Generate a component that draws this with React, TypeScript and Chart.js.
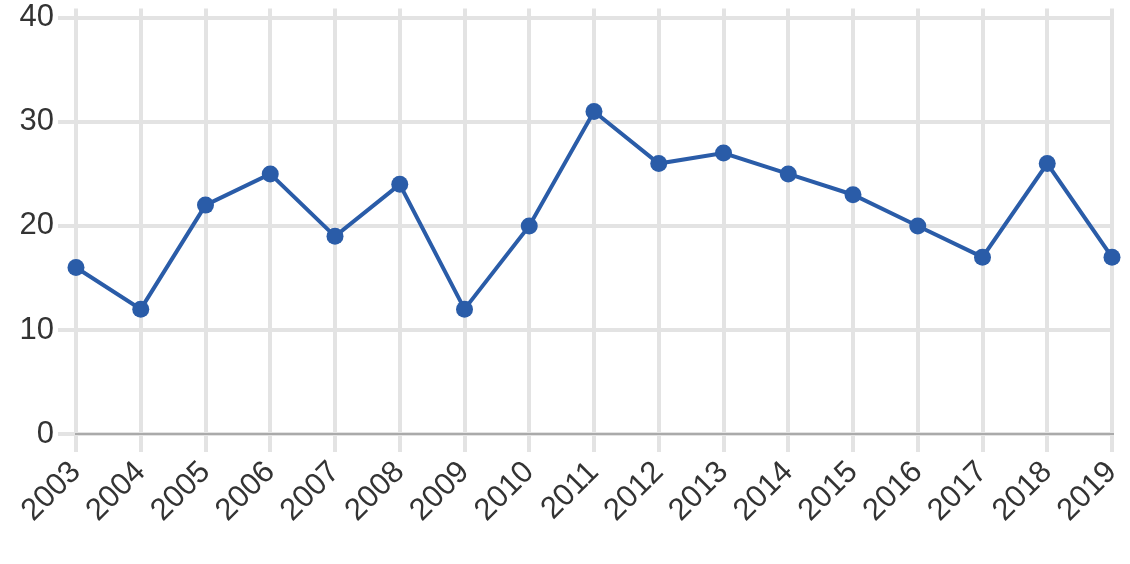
import React, { useEffect, useRef } from 'react';
import { Chart, registerables } from 'chart.js';

Chart.register(...registerables);

const years = ['2003', '2004', '2005', '2006', '2007', '2008', '2009', '2010', '2011', '2012', '2013', '2014', '2015', '2016', '2017', '2018', '2019'];
const values = [16, 12, 22, 25, 19, 24, 12, 20, 31, 26, 27, 25, 23, 20, 17, 26, 17];
const yTicks = [0, 10, 20, 30, 40];

const LINE_COLOR = '#2a5ca8';
const GRID_COLOR = '#e3e3e3';
const FONT = 'Helvetica, "Liberation Sans", Arial, sans-serif';

const App: React.FC = () => {
  const chartRef = useRef<HTMLCanvasElement>(null);
  const chartInstance = useRef<Chart | null>(null);

  useEffect(() => {
    if (!chartRef.current) return;
    const ctx = chartRef.current.getContext('2d');
    if (!ctx) return;

    chartInstance.current = new Chart(ctx, {
      type: 'line',
      data: {
        labels: years,
        datasets: [{
          data: values,
          borderColor: LINE_COLOR,
          backgroundColor: LINE_COLOR,
          borderWidth: 4,
          pointRadius: 8.5,
          pointBackgroundColor: LINE_COLOR,
          pointBorderWidth: 0,
          tension: 0,
          fill: false,
          clip: false
        }]
      },
      options: {
        animation: false,
        responsive: false,
        layout: { padding: { top: 0, right: 18, left: 0, bottom: 0 } },
        plugins: {
          legend: { display: false },
          tooltip: { enabled: false }
        },
        scales: {
          x: {
            offset: false,
            grid: { color: GRID_COLOR, lineWidth: 4, tickLength: 18 },
            border: { color: '#aaaaaa', width: 2 },
            ticks: {
              minRotation: 45,
              maxRotation: 45,
              autoSkip: false,
              padding: 2,
              color: '#333333',
              font: { family: FONT, size: 31 }
            },
            afterFit: (scale: any) => {
              scale.height = 130;
              scale.paddingLeft = 0;
              scale.paddingRight = 0;
              scale.paddingTop = 0;
              scale.paddingBottom = 0;
            }
          },
          y: {
            min: 0,
            max: 40.9,
            grid: { color: GRID_COLOR, lineWidth: 4, tickLength: 18 },
            border: { display: false },
            ticks: {
              stepSize: 10,
              padding: 4,
              color: '#333333',
              font: { family: FONT, size: 31 }
            },
            afterBuildTicks: (scale: any) => {
              scale.ticks = yTicks.map((v) => ({ value: v }));
            },
            afterFit: (scale: any) => {
              scale.width = 76;
              scale.paddingTop = 0;
              scale.paddingBottom = 0;
              scale.paddingLeft = 0;
              scale.paddingRight = 0;
            }
          }
        }
      }
    });

    return () => {
      if (chartInstance.current) {
        chartInstance.current.destroy();
      }
    };
  }, []);

  return (
    <div style={{ position: 'absolute', left: 0, top: 0, width: 1130, height: 564, background: '#ffffff' }}>
      <canvas ref={chartRef} width={1130} height={564} style={{ width: 1130, height: 564 }} />
    </div>
  );
};

export default App;
